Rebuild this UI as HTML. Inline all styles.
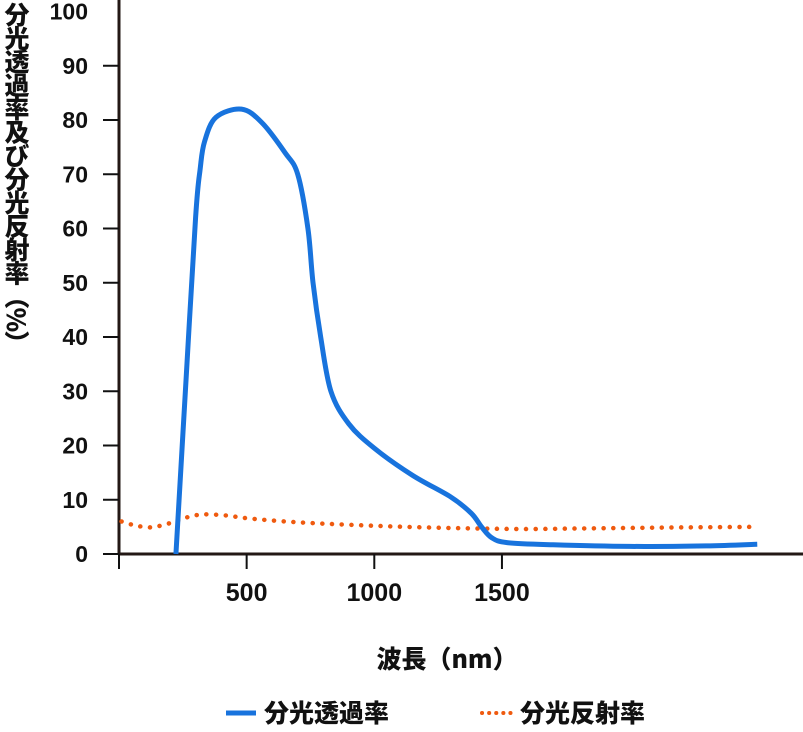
<!DOCTYPE html>
<html><head><meta charset="utf-8"><style>
body{margin:0;background:#fff;}
svg text{font-family:"Liberation Sans","Noto Sans CJK JP",sans-serif;font-weight:bold;fill:#111;}
</style></head><body>
<svg id="c" width="803" height="727" viewBox="0 0 803 727" xmlns="http://www.w3.org/2000/svg">
<g id="axes"></g><g id="series"></g>
<text x="17" y="2" font-size="25" style="writing-mode:vertical-rl;font-family:'Noto Sans CJK JP',sans-serif;font-weight:900" letter-spacing="-1.5">分光透過率及び分光反射率（%）</text>
<text x="447" y="668" font-size="25" text-anchor="middle" style="font-family:'Noto Sans CJK JP',sans-serif;font-weight:900">波長（nm）</text>
<g>
<line x1="226" y1="713" x2="256" y2="713" stroke="#1873dd" stroke-width="5"/>
<text x="264" y="722" font-size="25" style="font-family:'Noto Sans CJK JP',sans-serif;font-weight:900">分光透過率</text>
<line x1="482" y1="713" x2="512" y2="713" stroke="#ef5a0f" stroke-width="4" stroke-dasharray="0.1 7" stroke-linecap="round"/>
<text x="520" y="722" font-size="25" style="font-family:'Noto Sans CJK JP',sans-serif;font-weight:900">分光反射率</text>
</g>
</svg>
<script>
const yTicks=[0,10,20,30,40,50,60,70,80,90,100];
const xTicks=[500,1000,1500];
const transX=[223,260,300,318,335,380,480,560,650,700,740,760,790,830,900,1000,1150,1300,1380,1420,1460,1520,1700,2000,2300,2500];
const transY=[0,30,62,71,76,80.5,82,79.5,74,70,60,50,40,30,24,19.5,14.5,10.5,7.5,5,3,2.1,1.7,1.4,1.5,1.8];
const reflX=[10,60,120,170,220,270,330,420,500,650,800,1000,1200,1400,1600,1800,2000,2200,2500];
const reflY=[6,5.3,4.9,5.3,6,6.8,7.3,7.1,6.6,6,5.6,5.2,4.9,4.7,4.6,4.7,4.8,4.9,5];
const X=v=>119+v*0.2553, Y=v=>554-v*5.425;
const ns="http://www.w3.org/2000/svg";
const ax=document.getElementById('axes'), se=document.getElementById('series');
function mk(p,t,a){const e=document.createElementNS(ns,t);for(const k in a)e.setAttribute(k,a[k]);p.appendChild(e);return e;}
let l=mk(ax,'line',{x1:119,y1:0,x2:119,y2:555,stroke:'#231815','stroke-width':3});


l=mk(ax,'line',{x1:118,y1:554,x2:803,y2:554,stroke:'#231815','stroke-width':3});


yTicks.forEach(v=>{
 if(v<100){const t=mk(ax,'line',{x1:103,y1:Y(v),x2:119,y2:Y(v),stroke:'#111','stroke-width':2});
 
 }
 const tx=mk(ax,'text',{x:88,y:Y(v)+8,'font-size':23,'text-anchor':'end'});tx.textContent=v;
 
 
});
[0].concat(xTicks).forEach(v=>{
 const t=mk(ax,'line',{x1:X(v),y1:554,x2:X(v),y2:569,stroke:'#111','stroke-width':2});
 
 
});
xTicks.forEach(v=>{
 const tx=mk(ax,'text',{x:X(v),y:601,'font-size':25,'text-anchor':'middle'});tx.textContent=v;
 
 
});
function path(xs,ys){const p=xs.map((x,i)=>[X(x),Y(ys[i])]);let d='M'+p[0].join(',');
 for(let i=0;i<p.length-1;i++){const p0=p[Math.max(0,i-1)],p1=p[i],p2=p[i+1],p3=p[Math.min(p.length-1,i+2)];
 d+=` C${p1[0]+(p2[0]-p0[0])/6},${p1[1]+(p2[1]-p0[1])/6} ${p2[0]-(p3[0]-p1[0])/6},${p2[1]-(p3[1]-p1[1])/6} ${p2[0]},${p2[1]}`;}return d;}
let s=mk(se,'path',{d:path(reflX,reflY),fill:'none',stroke:'#ef5a0f','stroke-width':4.5,'stroke-dasharray':'0.1 9.6','stroke-linecap':'round'});


s=mk(se,'path',{d:path(transX,transY),fill:'none',stroke:'#1873dd','stroke-width':5});


</script>
</body></html>
